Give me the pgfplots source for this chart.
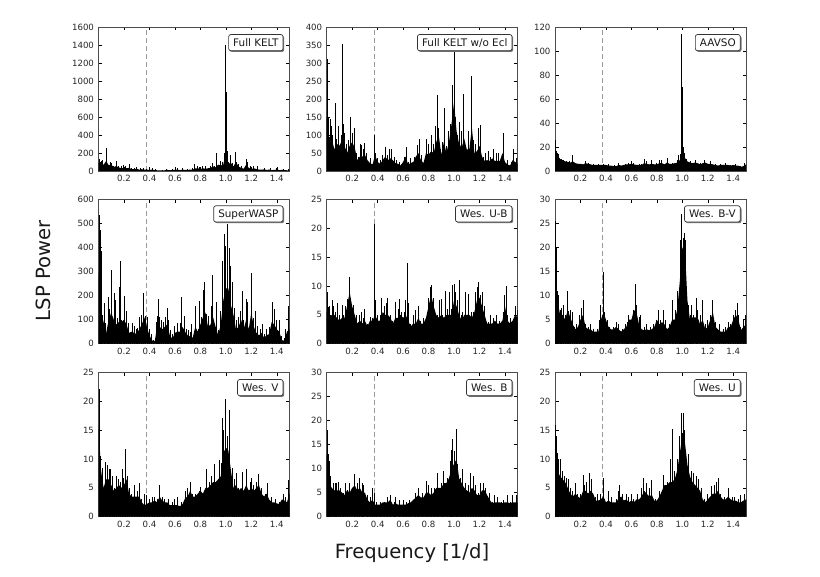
\documentclass[border=0pt]{standalone}
\usepackage{pgfplots}
\pgfplotsset{compat=1.18}
\usepackage{fontspec}
\setmainfont{DejaVu Sans}
\usetikzlibrary{shadows}
\definecolor{tk}{gray}{0.15}
\pgfplotsset{panel/.style={
  scale only axis, width=191pt, height=144pt, anchor=south west,
  xmin=0, xmax=1.5, ymin=0,
  xtick={0.2,0.4,0.6,0.8,1.0,1.2,1.4},
  xticklabels={0.2,0.4,0.6,0.8,1.0,1.2,1.4},
  tick align=inside, tick pos=both, minor tick num=0,
  major tick length=3.5pt,
  tick style={black,line width=0.4pt},
  axis line style={line width=0.6pt,black!70},
  ticklabel style={font=\fontsize{8.6}{10}\selectfont,text=tk},
  xticklabel style={yshift=-1pt},
  yticklabel style={xshift=-1pt},
  /pgf/number format/assume math mode=true,
  /pgf/number format/1000 sep={},
},
env/.style={fill=black,draw=none,no markers},
spk/.style={ycomb,black,line width=0.95pt,no markers},
dsh/.style={black!40,line width=0.8pt,dash pattern=on 5pt off 3pt,no markers},
}
\tikzset{lab/.style={draw=black!80,fill=white,rounded corners=2.2pt,line width=0.7pt,
  font=\fontsize{10.4}{12}\selectfont,text=black!90,text height=7.7pt,text depth=0.5pt,
  inner xsep=4.6pt,inner ysep=4pt,anchor=north east,
  drop shadow={shadow xshift=1.2pt,shadow yshift=-1.2pt,fill=black!55,opacity=1}}}
\begin{document}
\begin{tikzpicture}
\path[use as bounding box] (0,0) rectangle (820pt,577pt);
% ---------- Full KELT
\begin{axis}[panel,at={(98.5pt,406pt)},ymax=1600,ytick={0,200,...,1600}]
\addplot[dsh] coordinates {(0.375,0)(0.375,1600)};
\addplot[env] coordinates {(0,90)(0.02,75)(0.04,70)(0.06,110)(0.08,65)(0.1,70)(0.12,45)(0.14,55)(0.16,40)(0.18,30)(0.2,35)(0.22,30)(0.24,35)(0.26,20)(0.28,20)(0.3,25)(0.32,15)(0.34,20)(0.36,15)(0.38,15)(0.4,12)(0.42,15)(0.44,10)(0.46,8)(0.48,8)(0.5,6)(0.52,8)(0.54,12)(0.56,8)(0.58,12)(0.6,12)(0.62,15)(0.64,10)(0.66,15)(0.68,12)(0.7,12)(0.72,15)(0.74,15)(0.76,30)(0.78,30)(0.8,22)(0.82,30)(0.84,25)(0.86,30)(0.88,35)(0.9,50)(0.92,40)(0.94,70)(0.96,60)(0.98,70)(1,200)(1.02,80)(1.04,90)(1.06,50)(1.08,100)(1.1,50)(1.12,35)(1.14,25)(1.16,70)(1.18,35)(1.2,22)(1.22,30)(1.24,22)(1.26,15)(1.28,15)(1.3,18)(1.32,12)(1.34,15)(1.36,10)(1.38,12)(1.4,15)(1.42,10)(1.44,12)(1.46,10)(1.48,8)(1.5,6)} \closedcycle;
\addplot[spk] coordinates {(0.007,130)(0.015,100)(0.025,110)(0.035,125)(0.045,60)(0.06,250)(0.065,170)(0.08,70)(0.095,105)(0.105,90)(0.12,60)(0.14,110)(0.16,60)(0.18,50)(0.2,70)(0.21,60)(0.24,75)(0.26,30)(0.28,35)(0.3,40)(0.33,30)(0.35,30)(0.38,25)(0.42,30)(0.45,20)(0.5,15)(0.53,25)(0.58,25)(0.62,30)(0.66,30)(0.7,25)(0.74,30)(0.755,75)(0.78,60)(0.795,40)(0.82,60)(0.84,50)(0.88,60)(0.895,90)(0.91,60)(0.925,60)(0.93,195)(0.96,110)(0.975,100)(0.99,200)(0.995,1000)(1.0,1400)(1.005,880)(1.01,220)(1.02,100)(1.04,180)(1.05,90)(1.075,210)(1.085,100)(1.1,80)(1.12,60)(1.16,135)(1.17,100)(1.19,50)(1.22,60)(1.25,50)(1.3,35)(1.35,30)(1.4,30)(1.45,25)(1.49,20)};
\node[lab] at (rel axis cs:0.968,0.95) {Full KELT};
\end{axis}
% ---------- Full KELT w/o Ecl
\begin{axis}[panel,at={(326.7pt,406pt)},ymax=400,ytick={0,50,...,400}]
\addplot[dsh] coordinates {(0.372,0)(0.372,400)};
\addplot[env] coordinates {(0,150)(0.02,90)(0.04,90)(0.06,60)(0.08,75)(0.1,70)(0.12,85)(0.14,70)(0.16,50)(0.18,70)(0.2,80)(0.22,65)(0.24,30)(0.26,40)(0.28,40)(0.3,45)(0.32,30)(0.34,22)(0.36,18)(0.38,45)(0.4,25)(0.42,20)(0.44,30)(0.46,40)(0.48,30)(0.5,35)(0.52,30)(0.54,22)(0.56,20)(0.58,15)(0.6,25)(0.62,40)(0.64,18)(0.66,22)(0.68,25)(0.7,40)(0.72,50)(0.74,30)(0.76,22)(0.78,50)(0.8,45)(0.82,55)(0.84,50)(0.86,80)(0.88,100)(0.9,45)(0.92,80)(0.94,50)(0.96,80)(0.98,130)(1,190)(1.02,110)(1.04,75)(1.06,65)(1.08,90)(1.1,60)(1.12,60)(1.14,120)(1.16,50)(1.18,55)(1.2,70)(1.22,40)(1.24,28)(1.26,30)(1.28,28)(1.3,35)(1.32,28)(1.34,28)(1.36,28)(1.38,50)(1.4,25)(1.42,18)(1.44,15)(1.46,30)(1.48,25)(1.5,20)} \closedcycle;
\addplot[spk] coordinates {(0.007,310)(0.012,150)(0.018,95)(0.03,145)(0.037,125)(0.045,100)(0.055,60)(0.068,190)(0.075,90)(0.09,125)(0.1,70)(0.115,100)(0.125,353)(0.13,130)(0.14,105)(0.155,75)(0.17,85)(0.183,150)(0.19,115)(0.205,105)(0.22,120)(0.235,50)(0.25,40)(0.265,75)(0.275,72)(0.29,60)(0.3,77)(0.315,50)(0.33,25)(0.345,35)(0.36,20)(0.372,100)(0.385,50)(0.4,35)(0.42,30)(0.44,45)(0.46,68)(0.475,45)(0.49,60)(0.51,60)(0.53,40)(0.55,30)(0.57,25)(0.59,20)(0.61,40)(0.625,68)(0.64,25)(0.66,35)(0.69,40)(0.71,72)(0.73,90)(0.745,45)(0.77,30)(0.785,90)(0.8,75)(0.82,100)(0.84,75)(0.855,125)(0.87,210)(0.875,120)(0.895,60)(0.91,80)(0.925,175)(0.94,70)(0.955,110)(0.97,130)(0.985,240)(0.99,200)(1.0,340)(1.005,235)(1.015,150)(1.03,100)(1.045,135)(1.06,110)(1.075,215)(1.09,60)(1.11,110)(1.125,60)(1.135,265)(1.15,85)(1.165,75)(1.19,120)(1.21,127)(1.23,40)(1.25,50)(1.27,55)(1.29,40)(1.31,60)(1.33,50)(1.35,50)(1.385,105)(1.39,40)(1.42,30)(1.45,25)(1.47,60)(1.49,35)};
\node[lab] at (rel axis cs:0.972,0.95) {Full KELT w/o Ecl};
\end{axis}
% ---------- AAVSO
\begin{axis}[panel,at={(555pt,406pt)},ymax=120,ytick={0,20,...,120}]
\addplot[dsh] coordinates {(0.372,0)(0.372,120)};
\addplot[env] coordinates {(0,20)(0.02,13)(0.04,10)(0.06,9)(0.08,8)(0.1,7.5)(0.12,7)(0.14,8)(0.16,6.5)(0.18,6)(0.2,6)(0.22,5.5)(0.24,6.5)(0.26,6)(0.28,5.5)(0.3,5)(0.32,5)(0.34,5)(0.36,5)(0.38,5)(0.4,5)(0.42,4.5)(0.44,4.5)(0.46,4)(0.48,4)(0.5,5)(0.52,4.5)(0.54,5)(0.56,5.5)(0.58,5.5)(0.6,6)(0.62,5.5)(0.64,5)(0.66,5)(0.68,5)(0.7,6.5)(0.72,6)(0.74,5.5)(0.76,6)(0.78,5.5)(0.8,5.5)(0.82,6.5)(0.84,6.5)(0.86,5.5)(0.88,7)(0.9,6)(0.92,6)(0.94,6.5)(0.96,7)(0.98,9)(1,18)(1.02,11)(1.04,8)(1.06,7)(1.08,6.5)(1.1,7)(1.12,6.5)(1.14,5.5)(1.16,6.5)(1.18,7)(1.2,6)(1.22,6)(1.24,5.5)(1.26,5)(1.28,4.5)(1.3,5)(1.32,5)(1.34,5)(1.36,5)(1.38,4.5)(1.4,5)(1.42,4.5)(1.44,4.5)(1.46,3.5)(1.48,4)(1.5,5.5)} \closedcycle;
\addplot[spk] coordinates {(0.007,26)(0.013,17)(0.02,15)(0.03,14)(0.05,10)(0.07,9)(0.09,8)(0.11,8)(0.13,7)(0.14,13)(0.155,7)(0.18,6)(0.24,8)(0.26,7)(0.3,6)(0.34,6)(0.38,6)(0.42,6)(0.47,5)(0.5,7)(0.55,6)(0.58,7)(0.6,8)(0.62,7)(0.66,6)(0.68,6)(0.7,10)(0.72,8)(0.76,9)(0.8,7)(0.82,9)(0.84,9)(0.87,6)(0.88,11)(0.92,7)(0.96,9)(0.97,13)(0.985,14)(0.99,35)(0.997,114)(1.002,70)(1.01,20)(1.02,15)(1.03,10)(1.06,8)(1.1,9)(1.14,7)(1.17,9)(1.22,8)(1.26,6)(1.3,6)(1.34,7)(1.38,5)(1.42,6)(1.46,4)(1.49,7)};
\node[lab] at (rel axis cs:0.972,0.95) {AAVSO};
\end{axis}
% ---------- SuperWASP
\begin{axis}[panel,at={(98.5pt,233.3pt)},ymax=600,ytick={0,100,...,600}]
\addplot[dsh] coordinates {(0.375,0)(0.375,600)};
\addplot[env] coordinates {(0,300)(0.02,130)(0.04,90)(0.06,45)(0.08,100)(0.1,130)(0.12,100)(0.14,80)(0.16,90)(0.18,90)(0.2,100)(0.22,80)(0.24,45)(0.26,50)(0.28,45)(0.3,40)(0.32,60)(0.34,80)(0.36,110)(0.38,70)(0.4,35)(0.42,15)(0.44,5)(0.46,70)(0.48,70)(0.5,60)(0.52,70)(0.54,80)(0.56,35)(0.58,20)(0.6,45)(0.62,50)(0.64,50)(0.66,70)(0.68,50)(0.7,35)(0.72,30)(0.74,25)(0.76,70)(0.78,50)(0.8,80)(0.82,110)(0.84,130)(0.86,70)(0.88,80)(0.9,110)(0.92,70)(0.94,35)(0.96,80)(0.98,180)(1,230)(1.02,230)(1.04,160)(1.06,120)(1.08,60)(1.1,70)(1.12,100)(1.14,60)(1.16,100)(1.18,60)(1.2,130)(1.22,70)(1.24,45)(1.26,35)(1.28,45)(1.3,25)(1.32,35)(1.34,40)(1.36,90)(1.38,80)(1.4,60)(1.42,50)(1.44,15)(1.46,12)(1.48,50)(1.5,60)} \closedcycle;
\addplot[spk] coordinates {(0.006,535)(0.012,475)(0.018,160)(0.027,385)(0.035,120)(0.045,170)(0.055,85)(0.07,60)(0.08,195)(0.09,145)(0.1,305)(0.11,110)(0.125,210)(0.13,180)(0.15,105)(0.165,235)(0.17,345)(0.18,100)(0.195,95)(0.205,200)(0.22,135)(0.235,85)(0.25,45)(0.265,85)(0.28,75)(0.295,60)(0.31,65)(0.325,110)(0.34,120)(0.35,175)(0.355,210)(0.37,115)(0.385,110)(0.4,60)(0.415,40)(0.43,15)(0.44,10)(0.455,90)(0.465,115)(0.47,185)(0.48,110)(0.495,100)(0.51,90)(0.525,110)(0.54,150)(0.55,100)(0.565,55)(0.58,40)(0.6,75)(0.62,85)(0.64,85)(0.65,195)(0.66,60)(0.675,115)(0.69,60)(0.705,55)(0.72,50)(0.73,80)(0.75,25)(0.765,155)(0.785,60)(0.795,178)(0.81,110)(0.825,225)(0.835,255)(0.85,125)(0.865,115)(0.885,155)(0.895,285)(0.91,50)(0.925,175)(0.94,55)(0.96,135)(0.975,345)(0.99,455)(1.0,405)(1.013,500)(1.03,400)(1.04,325)(1.055,255)(1.07,150)(1.085,100)(1.1,110)(1.115,135)(1.13,218)(1.14,100)(1.16,185)(1.17,175)(1.19,100)(1.2,295)(1.215,105)(1.23,135)(1.25,75)(1.27,60)(1.285,80)(1.3,40)(1.32,60)(1.34,70)(1.37,175)(1.38,145)(1.4,100)(1.42,100)(1.44,30)(1.46,25)(1.47,60)(1.49,155)(1.495,80)};
\node[lab] at (rel axis cs:0.968,0.96) {SuperWASP};
\end{axis}
% ---------- Wes. U-B
\begin{axis}[panel,at={(326.7pt,233.3pt)},ymax=25,ytick={0,5,...,25}]
\addplot[dsh] coordinates {(0.372,0)(0.372,25)};
\addplot[env] coordinates {(0,5.5)(0.02,4.5)(0.04,5)(0.06,5)(0.08,4.5)(0.1,4)(0.12,4.5)(0.14,4.5)(0.16,6.5)(0.18,9)(0.2,6.5)(0.22,5)(0.24,3.5)(0.26,4)(0.28,3.5)(0.3,4)(0.32,3)(0.34,4)(0.36,4)(0.38,5)(0.4,4)(0.42,4)(0.44,5.5)(0.46,5)(0.48,5)(0.5,4.5)(0.52,3.5)(0.54,4.5)(0.56,4.5)(0.58,5)(0.6,4.5)(0.62,5)(0.64,4)(0.66,3)(0.68,3.5)(0.7,3.5)(0.72,4.5)(0.74,3.5)(0.76,3.5)(0.78,4.5)(0.8,6.5)(0.82,8.5)(0.84,6.5)(0.86,5)(0.88,4.5)(0.9,5)(0.92,4.5)(0.94,5)(0.96,5)(0.98,5)(1,7.5)(1.02,6.5)(1.04,5)(1.06,4)(1.08,5)(1.1,5)(1.12,5)(1.14,4.5)(1.16,5.5)(1.18,7.5)(1.2,8)(1.22,6.5)(1.24,5)(1.26,3.5)(1.28,3.5)(1.3,3.5)(1.32,4)(1.34,3.5)(1.36,3.5)(1.38,4)(1.4,6.5)(1.42,4)(1.44,3.5)(1.46,4)(1.48,5)(1.5,4.5)} \closedcycle;
\addplot[spk] coordinates {(0.007,9)(0.012,6.3)(0.02,6.5)(0.03,5)(0.045,7.5)(0.055,6.5)(0.07,5.5)(0.085,7)(0.1,5)(0.12,6.8)(0.135,5)(0.15,6.5)(0.16,7.8)(0.175,10.2)(0.18,11.5)(0.19,8)(0.21,6.8)(0.23,5)(0.25,3.5)(0.26,5)(0.275,5.5)(0.29,4.5)(0.3,6)(0.32,3.5)(0.34,4.7)(0.36,4.5)(0.372,20.8)(0.38,7.6)(0.4,5)(0.42,5)(0.43,8)(0.455,6.5)(0.47,7)(0.48,8)(0.5,5)(0.52,4)(0.54,7.3)(0.56,6)(0.575,7.8)(0.59,5.5)(0.61,5.5)(0.62,7.5)(0.633,14)(0.64,7)(0.66,3.5)(0.68,5)(0.7,5.8)(0.72,6.5)(0.74,4)(0.76,4.5)(0.78,4.7)(0.8,8)(0.815,9.8)(0.82,10.2)(0.84,8)(0.87,5)(0.885,7.5)(0.9,7.8)(0.91,5)(0.93,9.2)(0.945,6)(0.965,8.9)(0.98,6)(0.99,10.2)(1.0,10.3)(1.01,9)(1.03,7.5)(1.045,11)(1.06,5)(1.07,5.5)(1.09,9)(1.115,8.7)(1.135,5.5)(1.15,5.5)(1.17,9)(1.185,9.8)(1.195,10.7)(1.21,8.5)(1.225,9)(1.24,6.5)(1.27,3.8)(1.285,5)(1.31,4.5)(1.33,5)(1.36,4)(1.385,5.5)(1.4,8.5)(1.41,10)(1.42,5)(1.44,4.5)(1.46,4)(1.48,6.5)(1.495,5.8)};
\node[lab] at (rel axis cs:0.972,0.96) {Wes. U-B};
\end{axis}
% ---------- Wes. B-V
\begin{axis}[panel,at={(555pt,233.3pt)},ymax=30,ytick={0,5,...,30}]
\addplot[dsh] coordinates {(0.372,0)(0.372,30)};
\addplot[env] coordinates {(0,14)(0.02,9)(0.04,6)(0.06,6)(0.08,5)(0.1,7)(0.12,5.5)(0.14,4)(0.16,3)(0.18,3.5)(0.2,5)(0.22,6)(0.24,3.5)(0.26,3)(0.28,3)(0.3,2.5)(0.32,2.5)(0.34,2.5)(0.36,5)(0.38,6.5)(0.4,5)(0.42,3.5)(0.44,3)(0.46,3)(0.48,3.5)(0.5,3)(0.52,2.5)(0.54,3)(0.56,3.5)(0.58,5)(0.6,5)(0.62,7)(0.64,6.5)(0.66,4)(0.68,3)(0.7,2.8)(0.72,3)(0.74,2.8)(0.76,3)(0.78,3.5)(0.8,5)(0.82,4)(0.84,4.5)(0.86,4)(0.88,3)(0.9,3.5)(0.92,5)(0.94,5)(0.96,7)(0.98,13)(1,20)(1.02,20)(1.04,9)(1.06,5)(1.08,5.5)(1.1,5.5)(1.12,5.5)(1.14,4)(1.16,5)(1.18,3)(1.2,3.5)(1.22,5)(1.24,6.5)(1.26,3.5)(1.28,3)(1.3,2.5)(1.32,2.5)(1.34,2.5)(1.36,3.5)(1.38,3.5)(1.4,5)(1.42,6)(1.44,5)(1.46,2.8)(1.48,3.5)(1.5,4)} \closedcycle;
\addplot[spk] coordinates {(0.007,25.5)(0.012,20)(0.02,11)(0.03,10)(0.04,7)(0.05,7.5)(0.065,8)(0.08,6)(0.095,11)(0.105,6.8)(0.12,7)(0.135,6.5)(0.15,3.5)(0.17,4)(0.19,6)(0.205,7.5)(0.22,9)(0.24,4)(0.26,3.5)(0.28,4)(0.3,3)(0.315,2.5)(0.33,3)(0.34,2)(0.35,5)(0.36,8)(0.375,6)(0.382,15)(0.39,6.5)(0.41,5)(0.43,3.5)(0.46,3.5)(0.48,4.5)(0.5,4)(0.53,3)(0.55,4)(0.57,4.5)(0.58,6)(0.6,5)(0.62,7)(0.63,12.5)(0.64,8)(0.66,5.5)(0.67,6)(0.7,3.5)(0.72,4)(0.75,3.5)(0.77,4)(0.8,5)(0.81,7)(0.83,5)(0.85,7)(0.87,5)(0.9,4)(0.92,9)(0.945,7)(0.96,11)(0.975,9)(0.985,21.5)(0.99,21)(0.995,27)(1.005,22)(1.015,23)(1.025,21.5)(1.035,12)(1.05,8)(1.06,6)(1.07,8)(1.09,6)(1.11,9.5)(1.12,7)(1.14,6)(1.16,9)(1.18,4)(1.2,5)(1.22,6)(1.24,9)(1.26,4.5)(1.29,4)(1.32,3)(1.34,3.5)(1.36,4.5)(1.38,4)(1.4,6)(1.42,7)(1.43,8.5)(1.44,6)(1.46,3.5)(1.48,5)(1.495,6)};
\node[lab] at (rel axis cs:0.972,0.96) {Wes. B-V};
\end{axis}
% ---------- Wes. V
\begin{axis}[panel,at={(98.5pt,60.3pt)},ymax=25,ytick={0,5,...,25}]
\addplot[dsh] coordinates {(0.375,0)(0.375,25)};
\addplot[env] coordinates {(0,16)(0.02,8)(0.04,5)(0.06,6.5)(0.08,6.5)(0.1,5.5)(0.12,4.5)(0.14,5)(0.16,5.5)(0.18,5)(0.2,5.5)(0.22,6.5)(0.24,4)(0.26,3.5)(0.28,3.5)(0.3,3.5)(0.32,3.5)(0.34,2.5)(0.36,2)(0.38,2.2)(0.4,2.5)(0.42,2.5)(0.44,2.8)(0.46,2.5)(0.48,3.5)(0.5,2.8)(0.52,2.5)(0.54,2.5)(0.56,2)(0.58,2)(0.6,2)(0.62,2)(0.64,1.8)(0.66,2.2)(0.68,3.2)(0.7,3.5)(0.72,4.5)(0.74,3.5)(0.76,3.5)(0.78,4)(0.8,4.5)(0.82,4)(0.84,5)(0.86,5)(0.88,5.5)(0.9,6)(0.92,6)(0.94,6.5)(0.96,7)(0.98,11)(1,12)(1.02,11.5)(1.04,8)(1.06,5)(1.08,5.5)(1.1,4.5)(1.12,5)(1.14,4.5)(1.16,5.5)(1.18,4.5)(1.2,5)(1.22,4.5)(1.24,5)(1.26,5.5)(1.28,4)(1.3,3.5)(1.32,4)(1.34,3)(1.36,2.5)(1.38,2.5)(1.4,2.3)(1.42,2.2)(1.44,3)(1.46,2.8)(1.48,2.5)(1.5,4)} \closedcycle;
\addplot[spk] coordinates {(0.006,22.2)(0.011,16)(0.017,10.5)(0.03,8.5)(0.04,4)(0.055,9.5)(0.07,9)(0.085,8.2)(0.095,8.2)(0.11,7)(0.125,5)(0.145,7)(0.16,6.5)(0.17,6)(0.185,8.2)(0.2,6.8)(0.215,11.8)(0.23,7)(0.245,5)(0.26,4)(0.28,5.5)(0.305,4.5)(0.32,5.8)(0.34,3)(0.36,4)(0.38,3.8)(0.4,3)(0.42,3.5)(0.44,3.5)(0.465,3)(0.48,5.5)(0.5,3.5)(0.52,3)(0.55,3)(0.58,2.5)(0.6,3)(0.62,3.5)(0.65,2.5)(0.68,4.5)(0.7,5)(0.72,6)(0.74,4)(0.76,4)(0.79,4.5)(0.8,5.2)(0.83,4.5)(0.85,8.3)(0.87,6)(0.89,7)(0.91,9.2)(0.93,6)(0.95,9.9)(0.965,9.3)(0.974,17.2)(0.985,15)(0.997,20.4)(1.01,14)(1.026,18.5)(1.05,8.4)(1.07,6.5)(1.085,7.5)(1.1,5)(1.13,7.8)(1.16,8.2)(1.19,6)(1.2,6.8)(1.22,5.5)(1.24,6)(1.26,7.4)(1.28,5)(1.31,4)(1.33,5.8)(1.36,3.5)(1.39,3)(1.42,2.5)(1.45,4)(1.47,3.5)(1.49,6.4)};
\node[lab] at (rel axis cs:0.968,0.955) {Wes. V};
\end{axis}
% ---------- Wes. B
\begin{axis}[panel,at={(326.7pt,60.3pt)},ymax=30,ytick={0,5,...,30}]
\addplot[dsh] coordinates {(0.372,0)(0.372,30)};
\addplot[env] coordinates {(0,13)(0.02,7)(0.04,6)(0.06,5.5)(0.08,5.5)(0.1,5.5)(0.12,5)(0.14,4.5)(0.16,5.5)(0.18,5)(0.2,6)(0.22,6.5)(0.24,5.5)(0.26,6)(0.28,5)(0.3,5)(0.32,3.5)(0.34,3)(0.36,3.5)(0.38,2.5)(0.4,2.5)(0.42,2.5)(0.44,3)(0.46,3)(0.48,3)(0.5,3.5)(0.52,2.5)(0.54,2.8)(0.56,2.5)(0.58,2.5)(0.6,2.5)(0.62,2.5)(0.64,2.8)(0.66,3)(0.68,3.5)(0.7,4)(0.72,4.5)(0.74,4)(0.76,4)(0.78,5)(0.8,5)(0.82,4.5)(0.84,5)(0.86,6)(0.88,6)(0.9,6)(0.92,7)(0.94,7)(0.96,8)(0.98,10)(1,11)(1.02,12)(1.04,8)(1.06,7)(1.08,6)(1.1,5.5)(1.12,5)(1.14,6)(1.16,5.5)(1.18,4.5)(1.2,4.5)(1.22,5.5)(1.24,5.5)(1.26,4.5)(1.28,3.5)(1.3,2.8)(1.32,3)(1.34,3)(1.36,3)(1.38,2.8)(1.4,3)(1.42,3)(1.44,2.8)(1.46,3)(1.48,3)(1.5,3)} \closedcycle;
\addplot[spk] coordinates {(0.007,18)(0.012,13)(0.018,11.5)(0.03,8.5)(0.05,7)(0.065,7)(0.08,7)(0.095,7.2)(0.11,6)(0.13,5)(0.15,7)(0.165,5.5)(0.18,7)(0.22,8.8)(0.24,7)(0.26,8)(0.28,7)(0.29,6.5)(0.32,4.5)(0.34,4)(0.36,6)(0.375,5)(0.39,3)(0.42,3)(0.45,3)(0.48,4)(0.5,4.5)(0.53,3)(0.54,4)(0.57,3.5)(0.6,3.5)(0.63,3)(0.65,3.5)(0.7,5)(0.72,6)(0.75,5)(0.78,7.5)(0.8,6.5)(0.82,6)(0.85,6)(0.87,9)(0.9,7)(0.92,9.5)(0.95,8)(0.97,11.7)(0.98,13.8)(0.99,16.2)(1.0,13.7)(1.016,18.2)(1.03,11)(1.05,8)(1.07,10)(1.09,7)(1.11,6.5)(1.13,9)(1.15,8.5)(1.17,6.5)(1.19,5)(1.21,7)(1.23,7)(1.25,6)(1.28,5)(1.3,3)(1.32,4.5)(1.34,4)(1.37,3)(1.39,3.5)(1.42,4.5)(1.44,3)(1.46,4.5)(1.49,4.5)};
\node[lab] at (rel axis cs:0.972,0.955) {Wes. B};
\end{axis}
% ---------- Wes. U
\begin{axis}[panel,at={(555pt,60.3pt)},ymax=25,ytick={0,5,...,25}]
\addplot[dsh] coordinates {(0.372,0)(0.372,25)};
\addplot[env] coordinates {(0,14)(0.02,8)(0.04,7)(0.06,6.5)(0.08,6)(0.1,5)(0.12,4)(0.14,3.5)(0.16,4)(0.18,3.5)(0.2,3.2)(0.22,4.5)(0.24,4.5)(0.26,4)(0.28,4.5)(0.3,4)(0.32,2.8)(0.34,2.8)(0.36,3)(0.38,3.5)(0.4,2.5)(0.42,2.8)(0.44,2.5)(0.46,2.5)(0.48,2.5)(0.5,3.2)(0.52,3.5)(0.54,2.8)(0.56,3)(0.58,2.5)(0.6,2.8)(0.62,2.5)(0.64,3)(0.66,3)(0.68,3.5)(0.7,4.5)(0.72,4)(0.74,3.5)(0.76,3.8)(0.78,2.8)(0.8,2.8)(0.82,3.5)(0.84,4.5)(0.86,5.5)(0.88,5.5)(0.9,6)(0.92,6)(0.94,6.5)(0.96,8)(0.98,11)(1,14)(1.02,13)(1.04,9)(1.06,7)(1.08,6)(1.1,5.5)(1.12,5)(1.14,4.5)(1.16,3)(1.18,2.5)(1.2,3)(1.22,3.5)(1.24,4)(1.26,4)(1.28,4.5)(1.3,3.5)(1.32,3)(1.34,3)(1.36,3.5)(1.38,3)(1.4,2.8)(1.42,2.8)(1.44,2.5)(1.46,2.5)(1.48,2.8)(1.5,3)} \closedcycle;
\addplot[spk] coordinates {(0.007,16)(0.012,14)(0.02,11)(0.03,10)(0.045,10)(0.06,8)(0.075,7)(0.09,6.8)(0.105,6.5)(0.12,5)(0.14,4.5)(0.16,5.8)(0.18,4)(0.2,4)(0.22,7.2)(0.235,5.5)(0.25,6)(0.27,7.6)(0.29,6.5)(0.32,3.5)(0.33,4)(0.36,4)(0.38,6.7)(0.39,3)(0.42,4.5)(0.44,3.5)(0.48,3)(0.5,4.5)(0.51,5.5)(0.53,4)(0.56,4)(0.58,3.5)(0.6,4)(0.62,3)(0.65,4)(0.68,5)(0.695,6.8)(0.715,5.8)(0.74,5)(0.76,6.3)(0.79,3)(0.82,4.5)(0.855,7.2)(0.88,6)(0.905,10)(0.925,15.2)(0.94,8)(0.96,10)(0.98,14)(0.99,18)(1.0,14.5)(1.01,18)(1.02,15)(1.03,10)(1.05,10.8)(1.07,8)(1.09,7.5)(1.11,7)(1.13,6.5)(1.15,5)(1.17,3)(1.2,4)(1.23,5.3)(1.25,5.5)(1.27,6)(1.285,6.7)(1.3,4)(1.33,3.5)(1.36,5)(1.39,3.5)(1.41,3.5)(1.44,3)(1.46,3.7)(1.49,4)};
\node[lab] at (rel axis cs:0.972,0.955) {Wes. U};
\end{axis}
\node[font=\fontsize{19.6}{22}\selectfont,text=black!90] at (412pt,24pt) {Frequency [1/d]};
\node[font=\fontsize{19.6}{22}\selectfont,text=black!90,rotate=90] at (43pt,306pt) {LSP Power};
\end{tikzpicture}
\end{document}
